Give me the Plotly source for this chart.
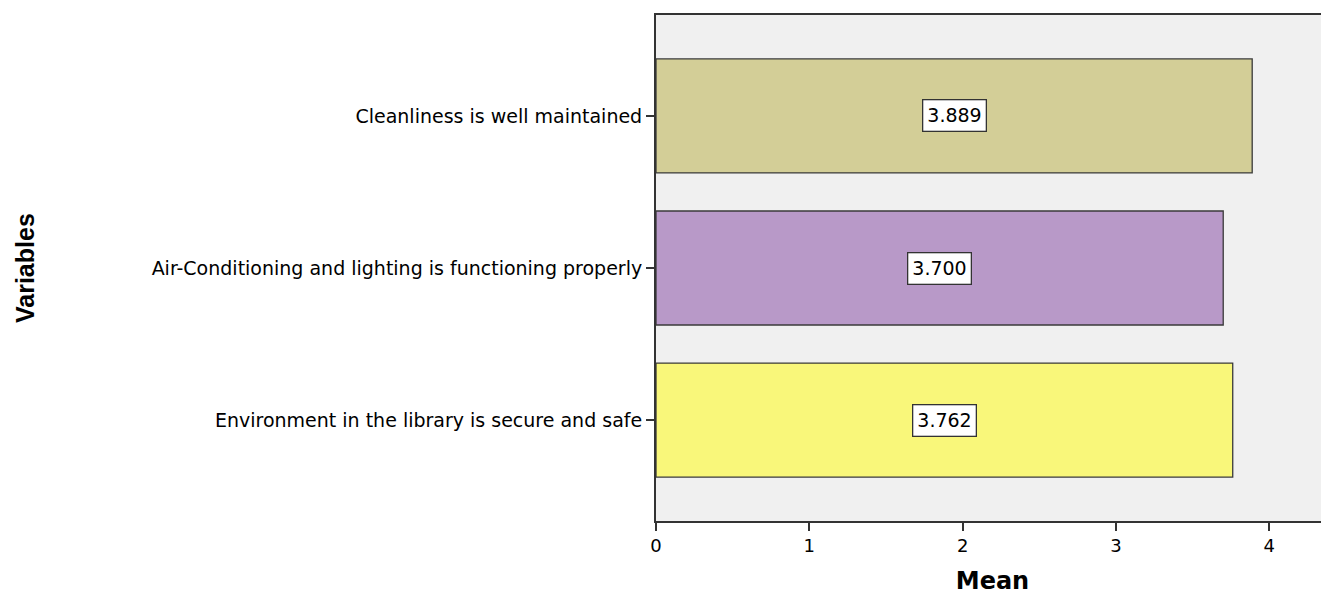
import plotly.graph_objects as go

categories = [
    "Cleanliness is well maintained",
    "Air-Conditioning and lighting is functioning properly",
    "Environment in the library is secure and safe",
]
means = [3.889, 3.700, 3.762]
colors = ["#d3ce97", "#b899c8", "#f9f77a"]
x_ticks = [0, 1, 2, 3, 4]

# page has an 8px body margin; figure sized to fit the window
W, H = 1321, 587
L, R, T, B = 648, 0, 7, 74

FONT = "DejaVu Sans, Verdana, Arial"

fig = go.Figure()
fig.add_trace(go.Bar(
    x=means, y=categories, orientation="h",
    marker=dict(color=colors, line=dict(color="#3a3a3a", width=1.3)),
    width=0.75, hoverinfo="x+y",
))

for c, v in zip(categories, means):
    fig.add_annotation(
        x=v / 2, y=c, xref="x", yref="y", text=f"{v:.3f}", showarrow=False,
        bgcolor="white", bordercolor="#333333", borderwidth=1.3, borderpad=4,
        font=dict(family=FONT, size=19, color="black"),
    )

fig.add_annotation(
    xref="paper", yref="paper", x=-(L - 17) / (W - L - R), y=(H - B - 260) / (H - T - B),
    text="<b>Variables</b>", textangle=-90, showarrow=False,
    font=dict(family="Liberation Sans Narrow, Arial Narrow, Arial", size=25, color="black"),
    xanchor="center", yanchor="middle",
)

fig.update_layout(
    width=W, height=H,
    margin=dict(l=L, r=R, t=T, b=B, autoexpand=False),
    paper_bgcolor="white", plot_bgcolor="#f0f0f0",
    showlegend=False,
)
fig.update_xaxes(
    range=[0, 4.39], tickvals=x_ticks, ticktext=[str(t) for t in x_ticks],
    showgrid=False, zeroline=False,
    showline=True, linecolor="#333333", linewidth=1.5, mirror=True,
    ticks="outside", ticklen=8, tickwidth=1.5, tickcolor="#333333",
    tickfont=dict(family=FONT, size=18, color="black"),
    title=dict(text="<b>Mean</b>", font=dict(family=FONT, size=24, color="black"), standoff=19),
    automargin=False,
)
fig.update_yaxes(
    type="category", categoryorder="array", categoryarray=categories,
    range=[2.664, -0.664],
    showgrid=False, zeroline=False,
    showline=True, linecolor="#333333", linewidth=2,
    ticks="outside", ticklen=8, tickwidth=1.5, tickcolor="#333333",
    tickfont=dict(family=FONT, size=19, color="black"),
    automargin=False,
)

fig.write_html("out.html")
